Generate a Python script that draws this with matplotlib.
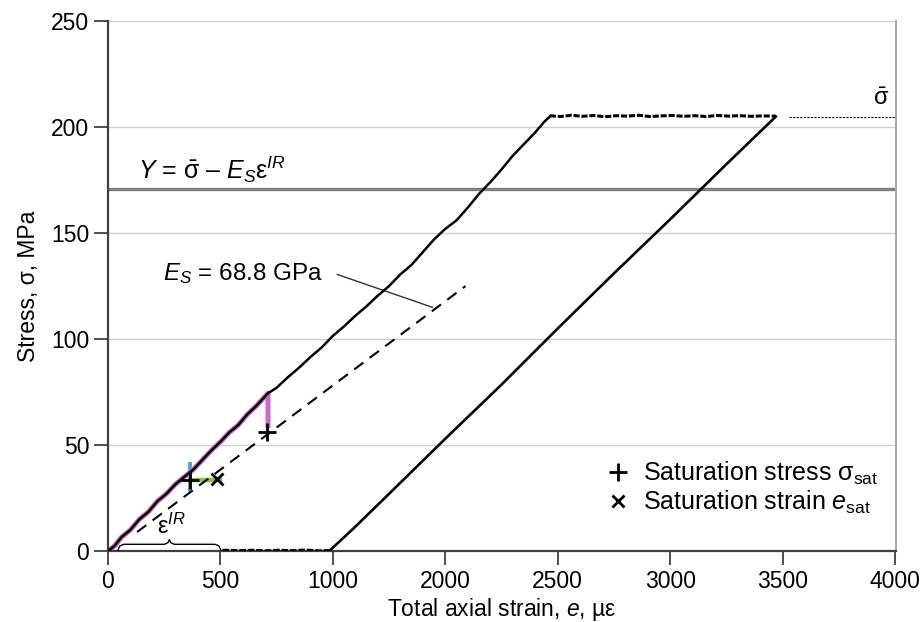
import numpy as np
import matplotlib.pyplot as plt
from matplotlib.lines import Line2D

plt.rcParams['font.family'] = ['Liberation Sans', 'DejaVu Sans']
plt.rcParams['mathtext.fontset'] = 'custom'
plt.rcParams['mathtext.rm'] = 'Liberation Sans'
plt.rcParams['mathtext.it'] = 'Liberation Sans:italic'
plt.rcParams['mathtext.sf'] = 'Liberation Sans'

# x positions are in axis units (ticks every 500), labels as printed on the figure
x_ticks = [0, 500, 1000, 1500, 2000, 2500, 3000, 3500]
x_tick_labels = ['0', '500', '1000', '2000', '2500', '3000', '3500', '4000']
y_ticks = [0, 50, 100, 150, 200, 250]

# loading branch (strain, stress)
load_x = [0, 30, 60, 100, 140, 180, 220, 260, 300, 340, 380, 420, 460, 500, 540,
          580, 620, 660, 712, 750, 800, 850, 900, 950, 1000, 1050, 1100, 1150,
          1200, 1250, 1300, 1350, 1400, 1450, 1500, 1550, 1600, 1650, 1700, 1750,
          1800, 1850, 1900, 1940, 1965]
load_y = [0, 2.5, 6.5, 10, 15, 18.5, 23.5, 27, 31.5, 35, 38.5, 43, 47.5, 51.5, 56,
          59.5, 64.5, 68.5, 74.5, 77, 82, 86.5, 91.5, 96, 101.5, 106, 111, 115.5,
          120.5, 125, 130.5, 135, 141, 147, 152, 156, 162, 168.5, 174, 180,
          186.5, 192, 197.5, 202.5, 205]

# plateau at peak stress
plat_x = [1965, 2010, 2060, 2110, 2160, 2210, 2260, 2310, 2360, 2410, 2460,
          2510, 2560, 2610, 2660, 2710, 2760, 2810, 2860, 2910, 2970]
plat_y = [205.4, 205.0, 205.6, 205.1, 205.5, 204.9, 205.4, 205.2, 205.6, 205.0,
          205.3, 205.5, 205.1, 205.4, 205.0, 205.5, 205.2, 205.4, 205.1, 205.3, 205.2]

# unloading branch and residual
unload_x = [2970, 2750, 2500, 2250, 2000, 1750, 1500, 1250, 1100, 989]
unload_y = [205, 182.5, 156.5, 131, 105, 78.5, 53, 27, 11.5, 0.5]
resid_x = [989, 940, 880, 820, 760, 700, 640, 580, 530, 500]
resid_y = [0.5, 0.3, 0.7, 0.4, 0.6, 0.3, 0.6, 0.4, 0.6, 0.5]

# coloured segments
magenta_x = [0, 30, 60, 100, 140, 180, 220, 260, 300, 340, 380, 420, 460, 500,
             540, 580, 620, 660, 712, 712]
magenta_y = [0, 2.5, 6.5, 10, 15, 18.5, 23.5, 27, 31.5, 35, 38.5, 43, 47.5, 51.5,
             56, 59.5, 64.5, 68.5, 74.5, 58]
blue_x = [365, 365]
blue_y = [41, 29]
green_x = [365, 500]
green_y = [33.5, 33.5]

# saturation points
sat_stress_x = [365, 708]
sat_stress_y = [33.5, 56]
sat_strain_x = [486]
sat_strain_y = [34]

# reference lines
Y_level = 171
sigma_bar = 205
es_line_x = [130, 1590]
es_line_y = [9, 125]
eps_ir = [45, 502]

fig = plt.figure(figsize=(9.22, 6.22), dpi=100)
ax = fig.add_axes([0.117, 0.114, 0.855, 0.852])

for yv in y_ticks[1:]:
    ax.axhline(yv, color='#cfcfcf', lw=1.0, zorder=0)
ax.axhline(Y_level, color='#808080', lw=2.4, zorder=1)

ax.plot(magenta_x, magenta_y, color='#c86ac8', lw=3.6, solid_capstyle='butt', zorder=2)
ax.plot(blue_x, blue_y, color='#4aa3e0', lw=2.8, zorder=2)
ax.plot(green_x, green_y, color='#8cc63f', lw=3.2, zorder=2)

ax.plot(load_x, load_y, color='black', lw=1.8, zorder=3)
ax.plot(plat_x, plat_y, color='black', lw=2.2, ls=(0, (2, 0.6)), zorder=3)
ax.plot(unload_x, unload_y, color='black', lw=1.9, zorder=3)
ax.plot(resid_x, resid_y, color='black', lw=1.6, ls=(0, (3, 0.8)), zorder=3)

ax.plot(es_line_x, es_line_y, color='black', lw=1.5, ls=(0, (5.5, 3.8)), zorder=3)
ax.plot([plat_x[-1] + 60, 3505], [sigma_bar, sigma_bar], color='black', lw=0.8,
        ls=(0, (2, 1.2)), zorder=3)

ax.plot(sat_stress_x, sat_stress_y, ls='none', marker='+', ms=13, mew=2, color='black', zorder=4)
ax.plot(sat_strain_x, sat_strain_y, ls='none', marker='x', ms=9, mew=2, color='black', zorder=4)

# brace under eps^IR
a, b = eps_ir
m = (a + b) / 2
bx = [a, a + 8, a + 25, m - 22, m - 6, m, m + 6, m + 22, b - 25, b - 8, b]
by = [0.5, 2.4, 3.2, 3.2, 4.0, 5.4, 4.0, 3.2, 3.2, 2.4, 0.5]
ax.plot(bx, by, color='black', lw=1.0, zorder=3)
ax.text(m - 55, 8, r'ε$^{\mathit{IR}}$', fontsize=17, ha='left', va='baseline')

ax.text(134, 180, r'$\mathit{Y}$ = $\bar{\mathrm{\sigma}}$ – $\mathit{E_S}$ε$^{\mathit{IR}}$',
        fontsize=18, ha='left', va='center')
ax.text(245, 131, r'$\mathit{E_S}$ = 68.8 GPa', fontsize=17.5, ha='left', va='center')
ax.plot([1020, 1443], [130.5, 115], color='#333333', lw=1.0)
ax.text(3440, 208, r'$\bar{\mathrm{\sigma}}$', fontsize=17, ha='center', va='bottom')

handles = [Line2D([], [], ls='none', marker='+', ms=13, mew=2, color='black'),
           Line2D([], [], ls='none', marker='x', ms=9, mew=2, color='black')]
labels = [r'Saturation stress σ$_{\mathrm{sat}}$', r'Saturation strain $\mathit{e}_{\mathrm{sat}}$']
ax.legend(handles, labels, loc='lower left', bbox_to_anchor=(0.631, 0.067), frameon=False,
          fontsize=18, handlelength=1.0, handletextpad=0.5, labelspacing=0.05,
          borderaxespad=0, borderpad=0)

ax.set_xlim(0, 3505)
ax.set_ylim(0, 250)
ax.set_xticks(x_ticks)
ax.set_xticklabels(x_tick_labels)
ax.set_yticks(y_ticks)
ax.tick_params(labelsize=16.5, length=10, width=1.3, color='#404040')
ax.set_xlabel(r'Total axial strain, $\mathit{e}$, µε', fontsize=16.5, labelpad=2)
ax.set_ylabel('Stress, σ, MPa', fontsize=16.5, labelpad=8)

for s in ['left', 'bottom']:
    ax.spines[s].set_color('#404040')
    ax.spines[s].set_linewidth(1.6)
ax.spines['top'].set_visible(False)
ax.spines['right'].set_color('#a8a8a8')
ax.spines['right'].set_linewidth(1.4)

fig.savefig('out.png', dpi=100)
